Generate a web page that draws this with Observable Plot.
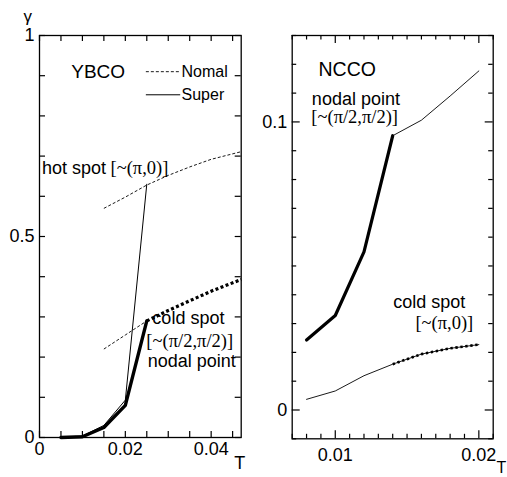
<!DOCTYPE html>
<html><head><meta charset="utf-8">
<script src="https://cdn.jsdelivr.net/npm/d3@7"></script>
<script src="https://cdn.jsdelivr.net/npm/@observablehq/plot@0.6"></script>
<style>
body{margin:0;background:#fff;}
#wrap{position:relative;width:507px;height:477px;overflow:hidden;background:#fff;}
.layer{position:absolute;top:0;}
.l{left:0;} .r{left:250px;}
</style></head><body><div id="wrap">
<div id="leftMain" class="layer l"></div><div id="leftTicks" class="layer l"></div>
<div id="rightMain" class="layer r"></div><div id="rightTicks" class="layer r"></div>
</div>
<script>
// ---------- YBCO (left panel) ----------
const ybcoSuperT = [0.005, 0.01, 0.015, 0.02, 0.025];
const ybcoHotSuper = [0.0, 0.004, 0.03, 0.093, 0.63];
const ybcoColdSuper = [0.0, 0.002, 0.025, 0.08, 0.29];
const ybcoNormalT = [0.015, 0.02, 0.025, 0.03, 0.035, 0.04, 0.047];
const ybcoHotNormal = [0.570, 0.598, 0.628, 0.652, 0.673, 0.692, 0.711];
const ybcoColdNormal = [0.22, 0.255, 0.29, 0.316, 0.34, 0.364, 0.393];
const ybcoTc = 0.025;
const ybcoXTicks = [0, 0.02, 0.04];
const ybcoYTicks = [0, 0.5, 1];

// ---------- NCCO (right panel) ----------
const nccoT = [0.008, 0.01, 0.012, 0.014, 0.016, 0.018, 0.02];
const nccoNodal = [0.0243, 0.0328, 0.0549, 0.0952, 0.1006, 0.109, 0.1177];
const nccoCold = [0.0037, 0.0066, 0.0119, 0.0159, 0.0194, 0.0214, 0.0227];
const nccoTc = 0.014;
const nccoXTicks = [0.01, 0.02];
const nccoYTicks = [0, 0.1];

// annotations (data coordinates)
const ybcoSans = [
  {T: 0.0074, g: 0.910, text: "YBCO", size: 19},
  {T: 0.0006, g: 0.669, text: "hot spot", size: 18},
  {T: 0.0263, g: 0.296, text: "cold spot", size: 18},
  {T: 0.0252, g: 0.189, text: "nodal point", size: 18}
];
const ybcoSerif = [
  {T: 0.01655, g: 0.669, text: "[~(π,0)]"},
  {T: 0.0249, g: 0.241, text: "[~(π/2,π/2)]"}
];
const legendItems = ["Nomal", "Super"];
const legendG = [0.910, 0.8525];
const legendT = [0.0249, 0.0329];

const nccoSans = [
  {T: 0.00883, g: 0.1182, text: "NCCO", size: 19.5},
  {T: 0.00837, g: 0.1080, text: "nodal point", size: 18},
  {T: 0.01403, g: 0.0374, text: "cold spot", size: 18}
];
const nccoSerif = [
  {T: 0.00833, g: 0.1017, text: "[~(π/2,π/2)]"},
  {T: 0.01558, g: 0.0300, text: "[~(π,0)]"}
];

const SANS = "Liberation Sans, Arial, sans-serif";
const SERIF = "Liberation Serif, Times New Roman, serif";
const TICKFONT = 18;
const STYLE = {fontFamily: SANS, fontSize: "17px", background: "transparent", color: "black"};

const zip = (xs, ys) => xs.map((x, i) => ({T: x, g: ys[i]}));
const fmt = d => d === 0 ? "0" : String(+d.toFixed(3));

// separate overlay plot: inward-pointing ticks on all four sides + frame
function tickPlot(dims, xDom, yDom, xTicks, yTicks, xMajor, yMajor, minorLen, majorLen) {
  const fw = dims.width - dims.marginLeft - dims.marginRight;
  const fh = dims.height - dims.marginTop - dims.marginBottom;
  const kx = (xDom[1] - xDom[0]) / fw, ky = (yDom[1] - yDom[0]) / fh;
  const isMaj = (arr, t) => arr.some(m => Math.abs(m - t) < 1e-9);
  const xt = xTicks.map(t => ({t, len: isMaj(xMajor, t) ? majorLen : minorLen}));
  const yt = yTicks.map(t => ({t, len: isMaj(yMajor, t) ? majorLen : minorLen}));
  const svg = Plot.plot({
    ...dims,
    x: {domain: xDom},
    y: {domain: yDom},
    style: STYLE,
    marks: [
      Plot.ruleX(xt, {x: "t", y1: yDom[0], y2: d => yDom[0] + d.len * ky, stroke: "black", strokeWidth: 1.2}),
      Plot.ruleX(xt, {x: "t", y1: yDom[1], y2: d => yDom[1] - d.len * ky, stroke: "black", strokeWidth: 1.2}),
      Plot.ruleY(yt, {y: "t", x1: xDom[0], x2: d => xDom[0] + d.len * kx, stroke: "black", strokeWidth: 1.2}),
      Plot.ruleY(yt, {y: "t", x1: xDom[1], x2: d => xDom[1] - d.len * kx, stroke: "black", strokeWidth: 1.2}),
      Plot.frame({stroke: "black", strokeWidth: 1.3})
    ]
  });
  // the panel's own labelled axes live in the main layer; drop the overlay's default ones
  svg.querySelectorAll("g[aria-label*='axis']").forEach(g => g.remove());
  return svg;
}

// ----- left panel -----
const L = {width: 250, height: 477, marginLeft: 39, marginRight: 9.3, marginTop: 35, marginBottom: 40};
const LxDom = [0, 0.047], LyDom = [0, 1];
const coldY = zip(ybcoNormalT, ybcoColdNormal);
const leftPlot = Plot.plot({
  ...L,
  x: {domain: LxDom},
  y: {domain: LyDom},
  style: STYLE,
  marks: [
    Plot.axisX(ybcoXTicks, {anchor: "bottom", tickSize: 0, tickPadding: 5, tickFormat: fmt, label: null, fontSize: TICKFONT}),
    Plot.axisY(ybcoYTicks, {anchor: "left", tickSize: 0, tickPadding: 5, tickFormat: fmt, label: null, fontSize: TICKFONT}),
    Plot.line(zip(ybcoNormalT, ybcoHotNormal), {x: "T", y: "g", stroke: "black", strokeWidth: 0.9, strokeDasharray: "3,2", strokeLinecap: "butt"}),
    Plot.line(coldY.filter(d => d.T <= ybcoTc), {x: "T", y: "g", stroke: "black", strokeWidth: 0.9, strokeDasharray: "3,2", strokeLinecap: "butt"}),
    Plot.line(coldY.filter(d => d.T >= ybcoTc), {x: "T", y: "g", stroke: "black", strokeWidth: 3.2, strokeDasharray: "3,2.4", strokeLinecap: "butt"}),
    Plot.line(zip(ybcoSuperT, ybcoHotSuper), {x: "T", y: "g", stroke: "black", strokeWidth: 1}),
    Plot.line(zip(ybcoSuperT, ybcoColdSuper), {x: "T", y: "g", stroke: "black", strokeWidth: 3.4}),
    Plot.ruleY([legendG[0]], {x1: legendT[0], x2: legendT[1], stroke: "black", strokeWidth: 0.9, strokeDasharray: "3,2"}),
    Plot.ruleY([legendG[1]], {x1: legendT[0], x2: legendT[1], stroke: "black", strokeWidth: 1}),
    Plot.text(legendItems, {x: legendT[1] + 0.0002, y: (d, i) => legendG[i], text: d => d, textAnchor: "start", fontSize: 16, fontFamily: SANS}),
    Plot.text(ybcoSans, {x: "T", y: "g", text: "text", fontSize: d => d.size, textAnchor: "start", fontFamily: SANS}),
    Plot.text(ybcoSerif, {x: "T", y: "g", text: "text", fontSize: 18.5, textAnchor: "start", fontFamily: SERIF}),
    Plot.text(["γ"], {frameAnchor: "top-left", lineAnchor: "middle", dx: -16, dy: -19, fontSize: 17, fontFamily: SANS}),
    Plot.text(["T"], {frameAnchor: "bottom-right", lineAnchor: "middle", dx: 4, dy: 26, fontSize: 18, fontFamily: SANS})
  ]
});
document.getElementById("leftMain").appendChild(leftPlot);
document.getElementById("leftTicks").appendChild(
  tickPlot(L, LxDom, LyDom,
    d3.range(0, 0.0471, 0.005).map(v => +v.toFixed(4)),
    d3.range(0, 1.001, 0.1).map(v => +v.toFixed(2)),
    [], [], 6, 6));

// ----- right panel -----
const R = {width: 257, height: 477, marginLeft: 41.7, marginRight: 14.3, marginTop: 35, marginBottom: 38.7};
const RxDom = [0.007, 0.021], RyDom = [-0.01, 0.13];
const nodal = zip(nccoT, nccoNodal);
const coldN = zip(nccoT, nccoCold);
const rightPlot = Plot.plot({
  ...R,
  x: {domain: RxDom},
  y: {domain: RyDom},
  style: STYLE,
  marks: [
    Plot.axisX(nccoXTicks, {anchor: "bottom", tickSize: 0, tickPadding: 9, tickFormat: fmt, label: null, fontSize: TICKFONT}),
    Plot.axisY(nccoYTicks, {anchor: "left", tickSize: 0, tickPadding: 5, tickFormat: fmt, label: null, fontSize: TICKFONT}),
    Plot.line(nodal.filter(d => d.T <= nccoTc), {x: "T", y: "g", stroke: "black", strokeWidth: 3.2}),
    Plot.line(nodal.filter(d => d.T >= nccoTc), {x: "T", y: "g", stroke: "black", strokeWidth: 0.9}),
    Plot.line(coldN, {x: "T", y: "g", stroke: "black", strokeWidth: 0.9}),
    Plot.line(coldN.filter(d => d.T >= nccoTc), {x: "T", y: "g", stroke: "black", strokeWidth: 2.6, strokeDasharray: "2.4,2.6", strokeLinecap: "butt"}),
    Plot.text(nccoSans, {x: "T", y: "g", text: "text", fontSize: d => d.size, textAnchor: "start", fontFamily: SANS}),
    Plot.text(nccoSerif, {x: "T", y: "g", text: "text", fontSize: 18.5, textAnchor: "start", fontFamily: SERIF}),
    Plot.text(["T"], {frameAnchor: "bottom-right", lineAnchor: "middle", textAnchor: "end", dx: 13, dy: 29, fontSize: 16, fontFamily: SANS})
  ]
});
document.getElementById("rightMain").appendChild(rightPlot);
document.getElementById("rightTicks").appendChild(
  tickPlot(R, RxDom, RyDom,
    d3.range(0.007, 0.02101, 0.001).map(v => +v.toFixed(4)),
    d3.range(-0.01, 0.1301, 0.01).map(v => +v.toFixed(3)),
    nccoXTicks, nccoYTicks, 4.5, 8));
</script>
</body></html>
